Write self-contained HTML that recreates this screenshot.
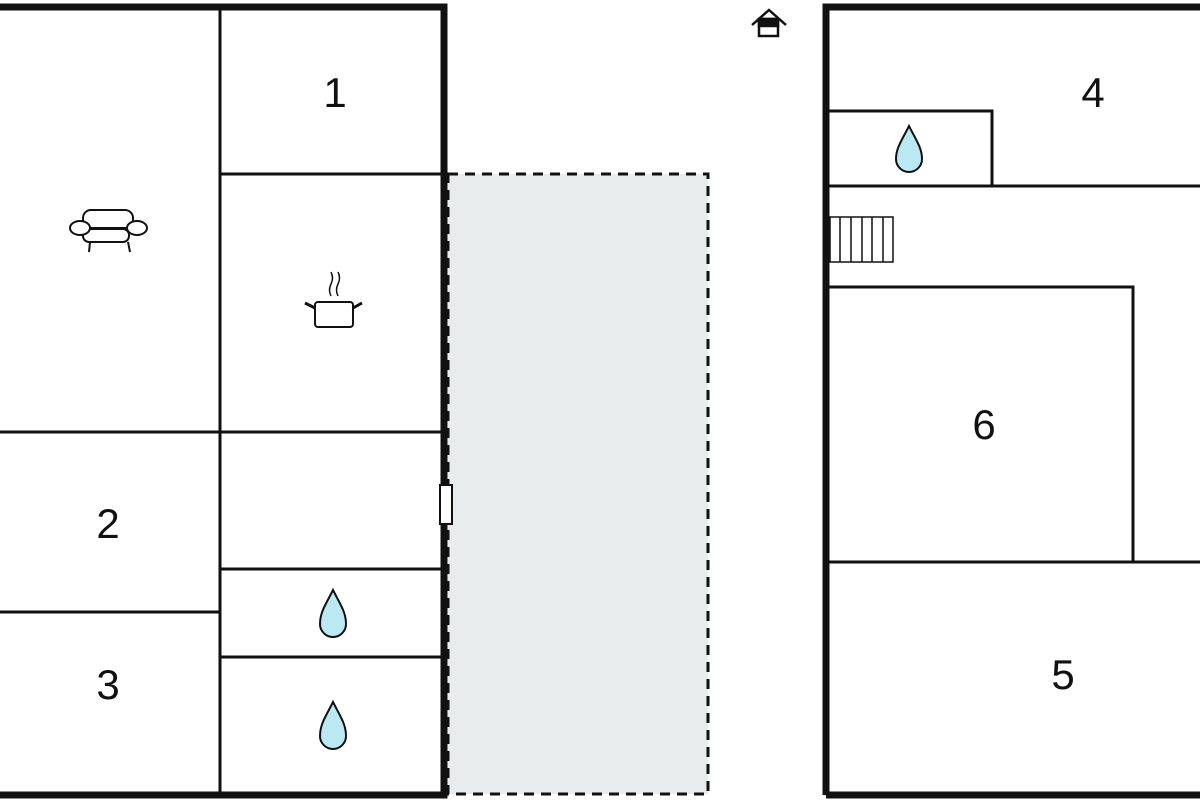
<!DOCTYPE html>
<html><head><style>body{margin:0;background:#fff}svg{display:block}text{font-family:"Liberation Sans",sans-serif;font-size:42px;fill:#111;text-anchor:middle}</style></head><body>
<svg width="1200" height="800" viewBox="0 0 1200 800">
<rect x="448" y="174" width="260" height="620" fill="#e9ecec" stroke="#111" stroke-width="3" stroke-dasharray="10,7"/>
<g stroke="#111" fill="none">
<path d="M0 7 H444 V795 H0" stroke-width="7"/>
<path d="M0 795 H444" stroke-width="7"/>
<g stroke-width="3">
<path d="M220 7 V795"/>
<path d="M220 174 H450"/>
<path d="M0 432 H444"/>
<path d="M0 612 H220"/>
<path d="M220 569 H444"/>
<path d="M220 657 H444"/>
</g>
<path d="M826 795 V7 H1200" stroke-width="7"/>
<path d="M826 795 H1200" stroke-width="7"/>
<g stroke-width="3">
<path d="M829 111 H992 V186"/>
<path d="M829 186 H1200"/>
<path d="M829 287 H1133 V562"/>
<path d="M829 562 H1200"/>
</g>
<g stroke-width="1.5">
<rect x="830" y="217" width="63" height="45"/>
<path d="M840 217V262M851 217V262M862 217V262M872 217V262M883 217V262"/>
</g>
</g>
<rect x="440" y="485" width="12" height="39" fill="#fff" stroke="#111" stroke-width="2"/>
<!-- sofa -->
<g stroke="#111" stroke-width="2" fill="#fff">
<rect x="83" y="210" width="50" height="18" rx="8"/>
<rect x="83" y="229" width="46" height="13" rx="6"/>
<ellipse cx="80" cy="228" rx="10" ry="7"/>
<ellipse cx="137" cy="228" rx="10" ry="7"/>
<path d="M90 242 L89 252 M128 242 L130 252" fill="none"/>
</g>
<!-- pot -->
<g stroke="#111" stroke-width="2" fill="none">
<rect x="315" y="302" width="38" height="25" rx="3" fill="#fff"/>
<path d="M315 308 L305 303 M353 308 L362 303" stroke-width="3"/>
<path d="M331 296 q-3-6 0-12 q3-6 0-12 M338 296 q-3-6 0-12 q3-6 0-12" stroke-width="1.5"/>
</g>
<!-- drops -->
<g fill="#b9e9f2" stroke="#111" stroke-width="2">
<path d="M333 590 C326 604 320 612 320 624 A13 13 0 0 0 346 624 C346 612 340 604 333 590Z"/>
<path d="M333 702 C326 716 320 724 320 736 A13 13 0 0 0 346 736 C346 724 340 716 333 702Z"/>
<path d="M909 126 C902 140 896 148 896 159 A13 13 0 0 0 922 159 C922 148 916 140 909 126Z"/>
</g>
<!-- house icon -->
<g stroke="#111" stroke-width="2.5" fill="none">
<path d="M752 25 L769 10 L786 25"/>
<rect x="759" y="19" width="19" height="17" fill="#fff"/>
<rect x="759" y="19" width="19" height="7" fill="#111"/>
</g>
<text x="335" y="107">1</text>
<text x="108" y="538">2</text>
<text x="108" y="699">3</text>
<text x="1093" y="107">4</text>
<text x="1063" y="689">5</text>
<text x="984" y="439">6</text>
</svg>
</body></html>
